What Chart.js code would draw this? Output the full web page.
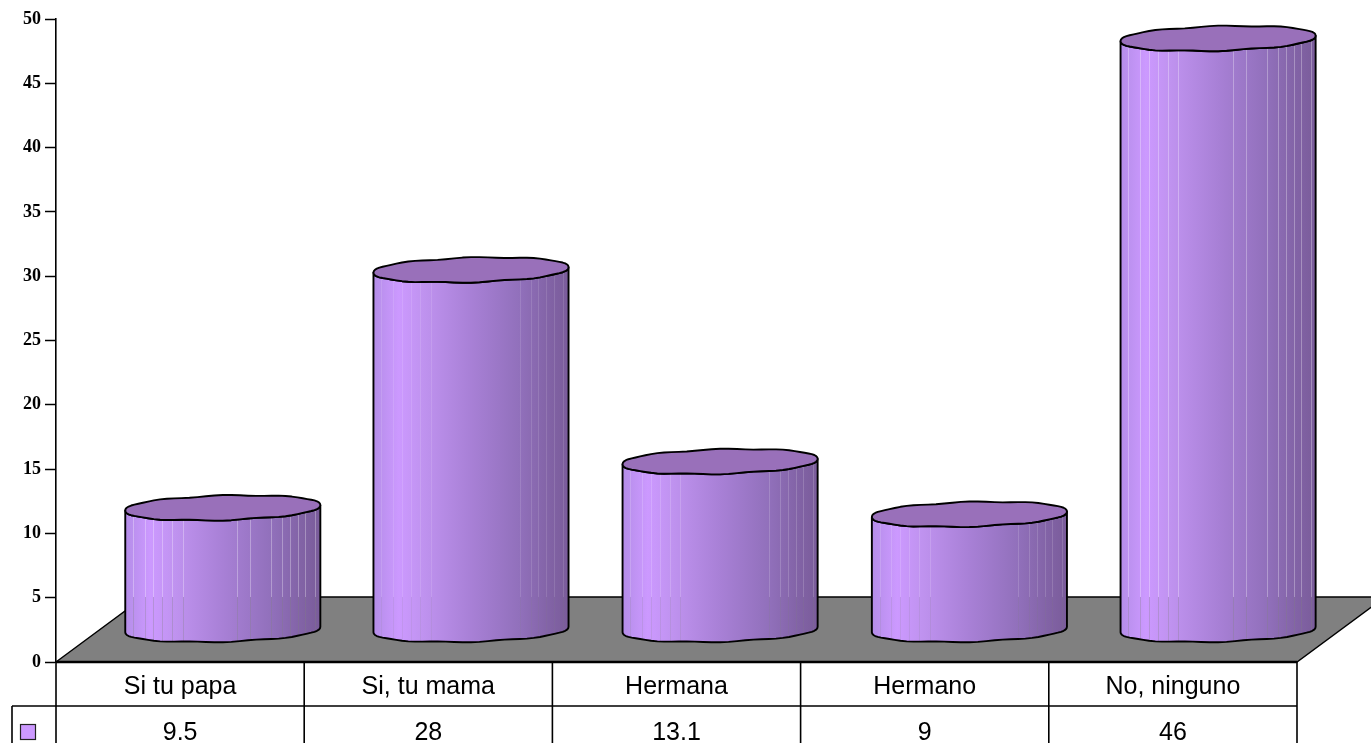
<!DOCTYPE html>
<html lang="en">
  <head>
    <meta charset="UTF-8" />
    <title>Cilindros</title>
    <script src="https://cdn.jsdelivr.net/npm/chart.js"></script>
    <style>
      html, body { margin: 0; padding: 0; background: #fff; overflow: hidden; }
      canvas { display: block; }
    </style>
  </head>
  <body>
    <canvas id="chart" width="1371" height="743"></canvas>
    <script>
      const categories = ["Si tu papa", "Si, tu mama", "Hermana", "Hermano", "No, ninguno"];
      const values = [9.5, 28, 13.1, 9, 46];
      const yTicks = [0, 5, 10, 15, 20, 25, 30, 35, 40, 45, 50];

      // offset of the cylinders on the floor, and how far back the floor goes
      const barDx = [42.7, 42.7, 43.6, 44.7, 45.2];
      const barDy = 32;
      const floorDx = 88, floorDy = 65;
      // where the facets of a cylinder meet, as a share of its width
      const seams = [0.04, 0.1, 0.144, 0.19, 0.241, 0.297, 0.749, 0.805, 0.846, 0.887, 0.923, 0.974];
      const outerSeams = [0.574, 0.641]; // only show on the first and last cylinder
      const seamAlpha = [0.3, 0.12, 0.17, 0.15, 0.3];

      function rim(cx, cy, a) {
        const pts = [];
        for (let i = 0; i <= 72; i++) {
          const t = (i / 72) * Math.PI * 2;
          const s = Math.sin(t);
          const wob = 0.6 * Math.sin(t * 9);
          const y = 12.2 * Math.sign(s) * Math.pow(Math.abs(s), 0.86);
          pts.push([cx + a * Math.cos(t), cy + y - 2.7 * Math.cos(t) + wob * Math.abs(s)]);
        }
        return pts;
      }

      const tablePlugin = {
        id: "table",
        beforeDatasetsDraw(chart) {
          const { ctx, chartArea: a } = chart;
          const bottom = a.bottom;
          // floor
          ctx.save();
          ctx.beginPath();
          ctx.moveTo(a.left, bottom);
          ctx.lineTo(a.right, bottom);
          ctx.lineTo(a.right + floorDx, bottom - floorDy);
          ctx.lineTo(a.left + floorDx, bottom - floorDy);
          ctx.closePath();
          ctx.fillStyle = "#808080";
          ctx.fill();
          ctx.strokeStyle = "#000";
          ctx.lineWidth = 1.4;
          ctx.stroke();

          // data table
          const w = (a.right - a.left) / categories.length;
          ctx.lineWidth = 1.6;
          ctx.beginPath();
          for (let i = 0; i <= categories.length; i++) {
            ctx.moveTo(a.left + i * w, bottom);
            ctx.lineTo(a.left + i * w, 743);
          }
          ctx.moveTo(12, 706);
          ctx.lineTo(a.right, 706);
          ctx.moveTo(12, 706);
          ctx.lineTo(12, 743);
          ctx.stroke();
          ctx.lineWidth = 2.4;
          ctx.beginPath();
          ctx.moveTo(a.left, bottom);
          ctx.lineTo(a.right, bottom);
          ctx.stroke();

          // legend key
          ctx.fillStyle = "#cc99ff";
          ctx.strokeStyle = "#222";
          ctx.lineWidth = 1.2;
          ctx.fillRect(20.5, 724.5, 15, 15);
          ctx.strokeRect(20.5, 724.5, 15, 15);
          ctx.restore();
        },
        afterDatasetsDraw(chart) {
          const { ctx, chartArea: a } = chart;
          const floorTop = a.bottom - floorDy;
          chart.getDatasetMeta(0).data.forEach((bar, idx) => {
            const cx = bar.x + barDx[idx];
            const half = bar.width / 2;
            const topY = bar.y - barDy;
            const baseY = bar.base - barDy;
            const top = rim(cx, topY, half);
            const base = rim(cx, baseY, half);

            ctx.save();
            // body: down the left side, round the front of the base, up the right side
            const body = new Path2D();
            body.moveTo(top[36][0], top[36][1]);
            body.lineTo(base[36][0], base[36][1]);
            for (let i = 35; i >= 0; i--) body.lineTo(base[i][0], base[i][1]);
            body.lineTo(top[0][0], top[0][1]);
            for (let i = 1; i <= 36; i++) body.lineTo(top[i][0], top[i][1]);
            body.closePath();
            const g = ctx.createLinearGradient(cx - half, 0, cx + half, 0);
            g.addColorStop(0, "#b48de8");
            g.addColorStop(0.13, "#cc99ff");
            g.addColorStop(0.25, "#c093f0");
            g.addColorStop(0.5, "#a880d6");
            g.addColorStop(0.75, "#9170bb");
            g.addColorStop(0.9, "#8263a6");
            g.addColorStop(1, "#7a5c9a");
            ctx.fillStyle = g;
            ctx.fill(body);

            // seams let the background through a little
            ctx.save();
            ctx.clip(body);
            ctx.lineWidth = 1;
            const list = idx === 0 || idx === 4 ? seams.concat(outerSeams) : seams;
            list.forEach((s) => {
              const x = Math.round(cx - half + s * bar.width) + 0.5;
              ctx.beginPath();
              ctx.moveTo(x, topY - 20);
              ctx.lineTo(x, floorTop);
              ctx.strokeStyle = `rgba(255,255,255,${seamAlpha[idx]})`;
              ctx.stroke();
              ctx.beginPath();
              ctx.moveTo(x, floorTop);
              ctx.lineTo(x, baseY + 20);
              ctx.strokeStyle = `rgba(128,128,128,${seamAlpha[idx]})`;
              ctx.stroke();
            });
            ctx.restore();

            ctx.strokeStyle = "#000";
            ctx.lineWidth = 1.9;
            ctx.lineJoin = "round";
            ctx.stroke(body);

            // top face
            ctx.beginPath();
            top.forEach((p, i) => (i ? ctx.lineTo(p[0], p[1]) : ctx.moveTo(p[0], p[1])));
            ctx.closePath();
            ctx.fillStyle = "#9970ba";
            ctx.fill();
            ctx.stroke();
            ctx.restore();
          });
        },
      };

      new Chart(document.getElementById("chart"), {
        type: "bar",
        data: {
          labels: categories,
          datasets: [
            {
              data: values,
              backgroundColor: "rgba(0,0,0,0)",
              borderWidth: 0,
              categoryPercentage: 0.786,
              barPercentage: 1,
            },
          ],
        },
        options: {
          responsive: false,
          animation: false,
          layout: { padding: { top: 19, right: 74, left: 0, bottom: 0 } },
          plugins: { legend: { display: false }, tooltip: { enabled: false } },
          scales: {
            x: {
              afterFit: (s) => { s.height = 81; },
              grid: { display: false, drawTicks: false },
              border: { display: false },
              ticks: {
                padding: 2.5,
                maxRotation: 0,
                color: "#000",
                font: { family: "Liberation Sans", size: 25, lineHeight: 1.82 },
                callback: (v, i) => [categories[i], String(values[i])],
              },
            },
            y: {
              min: 0,
              max: 50,
              afterFit: (s) => { s.width = 56; },
              afterBuildTicks: (s) => { s.ticks = yTicks.map((v) => ({ value: v })); },
              border: { color: "#000", width: 1.6 },
              grid: { drawOnChartArea: false, color: "#000", tickLength: 11, tickWidth: 1.5 },
              ticks: {
                padding: 4,
                color: "#000",
                font: { family: "Liberation Serif", size: 18, weight: "bold" },
              },
            },
          },
        },
        plugins: [tablePlugin],
      });
    </script>
  </body>
</html>
